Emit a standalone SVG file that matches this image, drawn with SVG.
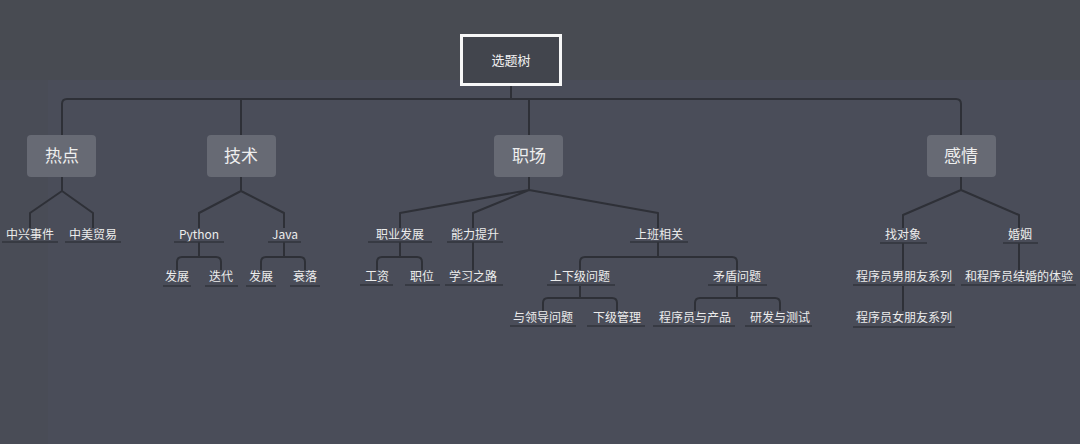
<svg xmlns="http://www.w3.org/2000/svg" width="1080" height="444" viewBox="0 0 1080 444">
<style>
text{font-family:"Noto Sans CJK SC","Noto Sans",sans-serif;text-anchor:middle;}
.leaf{font-size:12px;fill:#ececec;}
.l1{font-size:17px;fill:#eeeeee;}
.root{font-size:13px;fill:#f2f2f2;}
.ul{stroke:#32353c;stroke-width:1.5;fill:none;}
.box{fill:#676a74;}
#connectors path{fill:none;stroke:#2e3037;stroke-width:2;stroke-linejoin:round;}
</style>
<rect width="1080" height="444" fill="#484b52"/>
<rect x="48" y="80" width="1032" height="364" fill="#4a4d59"/>
<rect x="0" y="80" width="48" height="364" fill="#494c56"/>
<g id="connectors">
<path d="M511,86 V99"/>
<path d="M62,135 V104 Q62,99 67,99 H956 Q961,99 961,104 V135"/>
<path d="M241,99 V135"/>
<path d="M529,99 V135"/>
<path d="M62,177 V191 L30,213 V228 M62,191 L93,213 V228"/>
<path d="M241,177 V191 L199,213 V228 M241,191 L284,213 V228"/>
<path d="M199,242 V257 M177,270 V262 Q177,257 182,257 H216 Q221,257 221,262 V270"/>
<path d="M284,242 V257 M261,270 V262 Q261,257 266,257 H300 Q305,257 305,262 V270"/>
<path d="M529,177 V190 L400,213 V228 M529,190 L473,213 V228 M529,190 L658,213 V228"/>
<path d="M400,242 V257 M377,270 V262 Q377,257 382,257 H417 Q422,257 422,262 V270"/>
<path d="M473,242 V270"/>
<path d="M658,242 V257 M580,270 V262 Q580,257 585,257 H732 Q737,257 737,262 V270"/>
<path d="M580,286 V298 M543,311 V303 Q543,298 548,298 H612 Q617,298 617,303 V311"/>
<path d="M737,286 V298 M695,311 V303 Q695,298 700,298 H775 Q780,298 780,303 V311"/>
<path d="M961,177 V190 L903,215 V228 M961,190 L1019,215 V228"/>
<path d="M903,243 V270 M903,286 V311"/>
<path d="M1019,243 V270"/>
</g>
<g id="root">
<rect x="461.5" y="35.5" width="99" height="49" fill="#42454d" stroke="#f7f7f7" stroke-width="3"/>
<text class="root" x="511" y="65">选题树</text>
</g>
<g id="n-redian"><rect class="box" x="27" y="135" width="69" height="42" rx="4"/><text class="l1" x="62" y="162">热点</text></g>
<g id="n-jishu"><rect class="box" x="207" y="135" width="69" height="42" rx="4"/><text class="l1" x="241" y="162">技术</text></g>
<g id="n-zhichang"><rect class="box" x="494" y="135" width="69" height="42" rx="4"/><text class="l1" x="529" y="162">职场</text></g>
<g id="n-ganqing"><rect class="box" x="927" y="135" width="69" height="42" rx="4"/><text class="l1" x="961" y="162">感情</text></g>

<g id="n-zte"><text class="leaf" x="30" y="239">中兴事件</text><path class="ul" d="M2,242 H58"/></g>
<g id="n-trade"><text class="leaf" x="93" y="239">中美贸易</text><path class="ul" d="M65,242 H121"/></g>
<g id="n-python"><text class="leaf" x="199" y="239">Python</text><path class="ul" d="M174,242 H224"/></g>
<g id="n-java"><text class="leaf" x="285" y="239">Java</text><path class="ul" d="M268,242 H301"/></g>
<g id="n-zyfz"><text class="leaf" x="400" y="239">职业发展</text><path class="ul" d="M368,242 H432"/></g>
<g id="n-nlts"><text class="leaf" x="475" y="239">能力提升</text><path class="ul" d="M447,242 H503"/></g>
<g id="n-sbxg"><text class="leaf" x="659" y="239">上班相关</text><path class="ul" d="M630,242 H688"/></g>
<g id="n-zdx"><text class="leaf" x="903" y="239">找对象</text><path class="ul" d="M880,243 H927"/></g>
<g id="n-hy"><text class="leaf" x="1020" y="239">婚姻</text><path class="ul" d="M1003,243 H1038"/></g>

<g id="n-py-fz"><text class="leaf" x="177" y="281">发展</text><path class="ul" d="M163,286 H191"/></g>
<g id="n-py-dd"><text class="leaf" x="221" y="281">迭代</text><path class="ul" d="M205,286 H238"/></g>
<g id="n-java-fz"><text class="leaf" x="261" y="281">发展</text><path class="ul" d="M246,286 H276"/></g>
<g id="n-java-sl"><text class="leaf" x="305" y="281">衰落</text><path class="ul" d="M290,286 H320"/></g>
<g id="n-gz"><text class="leaf" x="377" y="281">工资</text><path class="ul" d="M360,285 H393"/></g>
<g id="n-zw"><text class="leaf" x="422" y="281">职位</text><path class="ul" d="M405,285 H440"/></g>
<g id="n-xxzl"><text class="leaf" x="473" y="281">学习之路</text><path class="ul" d="M445,285 H503"/></g>
<g id="n-sxj"><text class="leaf" x="580" y="281">上下级问题</text><path class="ul" d="M547,285 H615"/></g>
<g id="n-mdwt"><text class="leaf" x="737" y="281">矛盾问题</text><path class="ul" d="M708,285 H767"/></g>
<g id="n-nanpy"><text class="leaf" x="904" y="281">程序员男朋友系列</text><path class="ul" d="M853,285 H955"/></g>
<g id="n-jhty"><text class="leaf" x="1019" y="281">和程序员结婚的体验</text><path class="ul" d="M961,285 H1076"/></g>

<g id="n-ldwt"><text class="leaf" x="543" y="322">与领导问题</text><path class="ul" d="M510,326 H576"/></g>
<g id="n-xjgl"><text class="leaf" x="617" y="322">下级管理</text><path class="ul" d="M587,326 H645"/></g>
<g id="n-cpy"><text class="leaf" x="695" y="322">程序员与产品</text><path class="ul" d="M653,326 H735"/></g>
<g id="n-yfcs"><text class="leaf" x="780" y="322">研发与测试</text><path class="ul" d="M745,326 H812"/></g>
<g id="n-nvpy"><text class="leaf" x="904" y="322">程序员女朋友系列</text><path class="ul" d="M853,327 H955"/></g>
</svg>
